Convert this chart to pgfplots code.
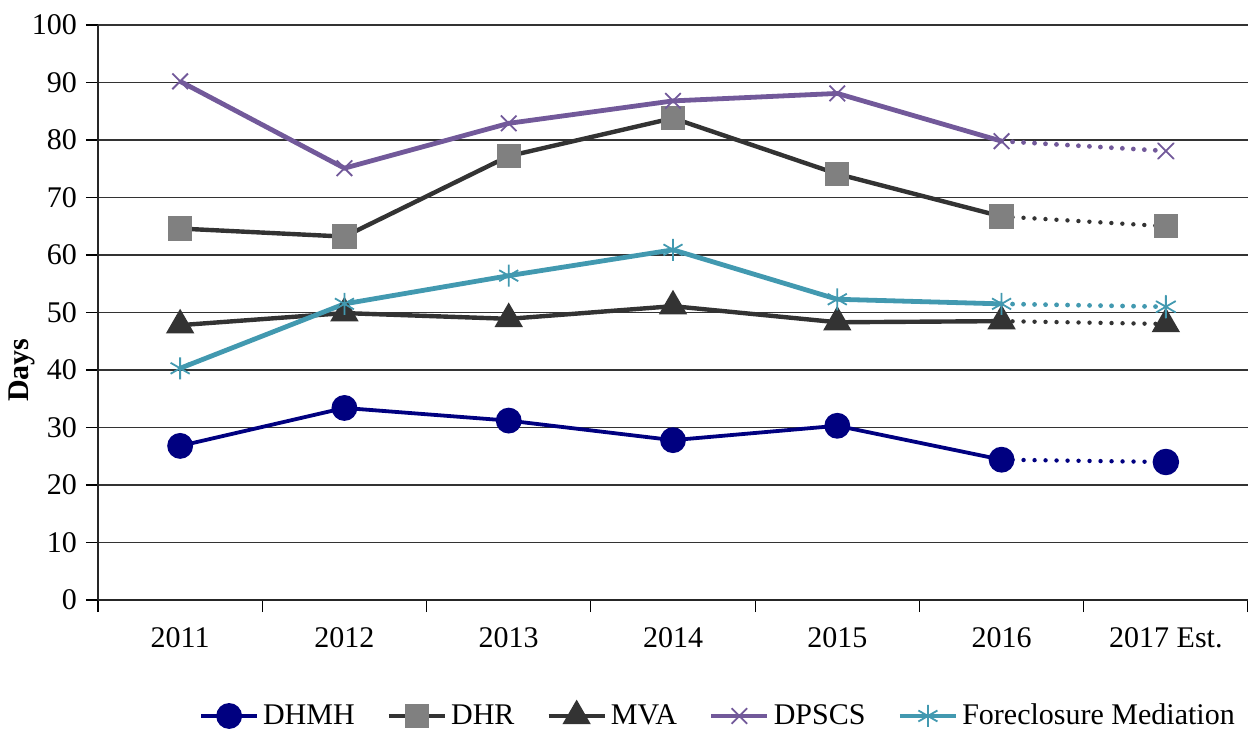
\documentclass[border=0pt]{standalone}
\usepackage{fontspec}
\setmainfont{Liberation Serif}
\usepackage{pgfplots}
\pgfplotsset{compat=1.18}
\definecolor{cDHMH}{HTML}{000080}
\definecolor{cDHR}{HTML}{333333}
\definecolor{cDHRm}{HTML}{808080}
\definecolor{cMVA}{HTML}{333333}
\definecolor{cDPSCS}{HTML}{72599A}
\definecolor{cFM}{HTML}{4299B0}
\begin{document}
\begin{tikzpicture}
\useasboundingbox (0pt,0pt) rectangle (624pt,365pt);
\begin{axis}[
  at={(49pt,65pt)}, anchor=south west,
  scale only axis, width=575pt, height=287.5pt,
  xmin=-0.5, xmax=6.5, ymin=0, ymax=100,
  axis lines*=left, axis line style={-, line width=0.8pt, black!85},
  xtick={0,...,6},
  xticklabels={2011,2012,2013,2014,2015,2016,2017 Est.},
  minor xtick={-0.5,0.5,...,6.5},
  ytick={0,10,...,100},
  major x tick style={draw=none},
  minor x tick style={black, line width=0.6pt},
  minor tick length=6pt,
  major tick length=6pt,
  y tick style={black, line width=0.6pt},
  tick align=outside,
  ymajorgrids, grid style={black!80, line width=0.6pt},
  font=\fontsize{15}{18}\selectfont,
  /pgf/number format/assume math mode=true,
  xticklabel style={yshift=-4pt},
  yticklabel style={xshift=-1pt},
  ylabel={\textbf{Days}},
  ylabel style={at={(axis description cs:-0.066,0.4)}, anchor=center, rotate=0},
  legend style={at={(axis description cs:0.54,-0.2017)}, anchor=center, draw=none,
    legend columns=5, font=\fontsize{15}{18}\selectfont,
    /tikz/every even column/.append style={column sep=14pt}},
  legend image code/.code={
    \draw[#1] (0pt,0pt) -- (28pt,0pt);
    \draw[#1, only marks] plot coordinates {(14pt,0pt)};
  },
  legend cell align=left,
]
% DHMH
\addplot[cDHMH, line width=1.9pt, mark=*, mark size=5.5pt, mark options={solid, fill=cDHMH}]
  coordinates {(0,26.8) (1,33.4) (2,31.2) (3,27.8) (4,30.3) (5,24.4)};
\addlegendentry{DHMH}
% DHR
\addplot[cDHR, line width=2.2pt, mark=square*, mark size=5pt, mark options={solid, draw=cDHRm, fill=cDHRm}]
  coordinates {(0,64.6) (1,63.2) (2,77.2) (3,83.8) (4,74.1) (5,66.7)};
\addlegendentry{DHR}
% MVA
\addplot[cMVA, line width=2.2pt, mark=triangle*, mark size=6pt, mark options={solid, fill=cMVA}]
  coordinates {(0,47.8) (1,49.9) (2,48.9) (3,51.1) (4,48.3) (5,48.5)};
\addlegendentry{MVA}
% DPSCS
\addplot[cDPSCS, line width=2.4pt, mark=x, mark size=5.5pt, mark options={solid, line width=0.9pt}]
  coordinates {(0,90.2) (1,75.1) (2,82.9) (3,86.8) (4,88.1) (5,79.8)};
\addlegendentry{DPSCS}
% Foreclosure Mediation
\addplot[cFM, line width=2.4pt, mark=asterisk, mark size=5.5pt, mark options={solid, line width=0.9pt}]
  coordinates {(0,40.3) (1,51.5) (2,56.4) (3,60.9) (4,52.3) (5,51.5)};
\addlegendentry{Foreclosure Mediation}
% dotted estimates
\addplot[forget plot, cDHMH, line width=2.2pt, line cap=round, dash pattern=on 0pt off 5.5pt, mark=*, mark size=5.5pt, mark options={solid, fill=cDHMH}, mark indices={2}]
  coordinates {(5,24.4) (6,24.0)};
\addplot[forget plot, cDHR, line width=2.2pt, line cap=round, dash pattern=on 0pt off 5.5pt, mark=square*, mark size=5pt, mark options={solid, draw=cDHRm, fill=cDHRm}, mark indices={2}]
  coordinates {(5,66.7) (6,65.0)};
\addplot[forget plot, cMVA, line width=2.2pt, line cap=round, dash pattern=on 0pt off 5.5pt, mark=triangle*, mark size=6pt, mark options={solid, fill=cMVA}, mark indices={2}]
  coordinates {(5,48.5) (6,48.0)};
\addplot[forget plot, cDPSCS, line width=2.4pt, line cap=round, dash pattern=on 0pt off 5.5pt, mark=x, mark size=5.5pt, mark options={solid, line width=0.9pt}, mark indices={2}]
  coordinates {(5,79.8) (6,78.1)};
\addplot[forget plot, cFM, line width=2.4pt, line cap=round, dash pattern=on 0pt off 5.5pt, mark=asterisk, mark size=5.5pt, mark options={solid, line width=0.9pt}, mark indices={2}]
  coordinates {(5,51.5) (6,51.0)};
\end{axis}
\end{tikzpicture}
\end{document}
